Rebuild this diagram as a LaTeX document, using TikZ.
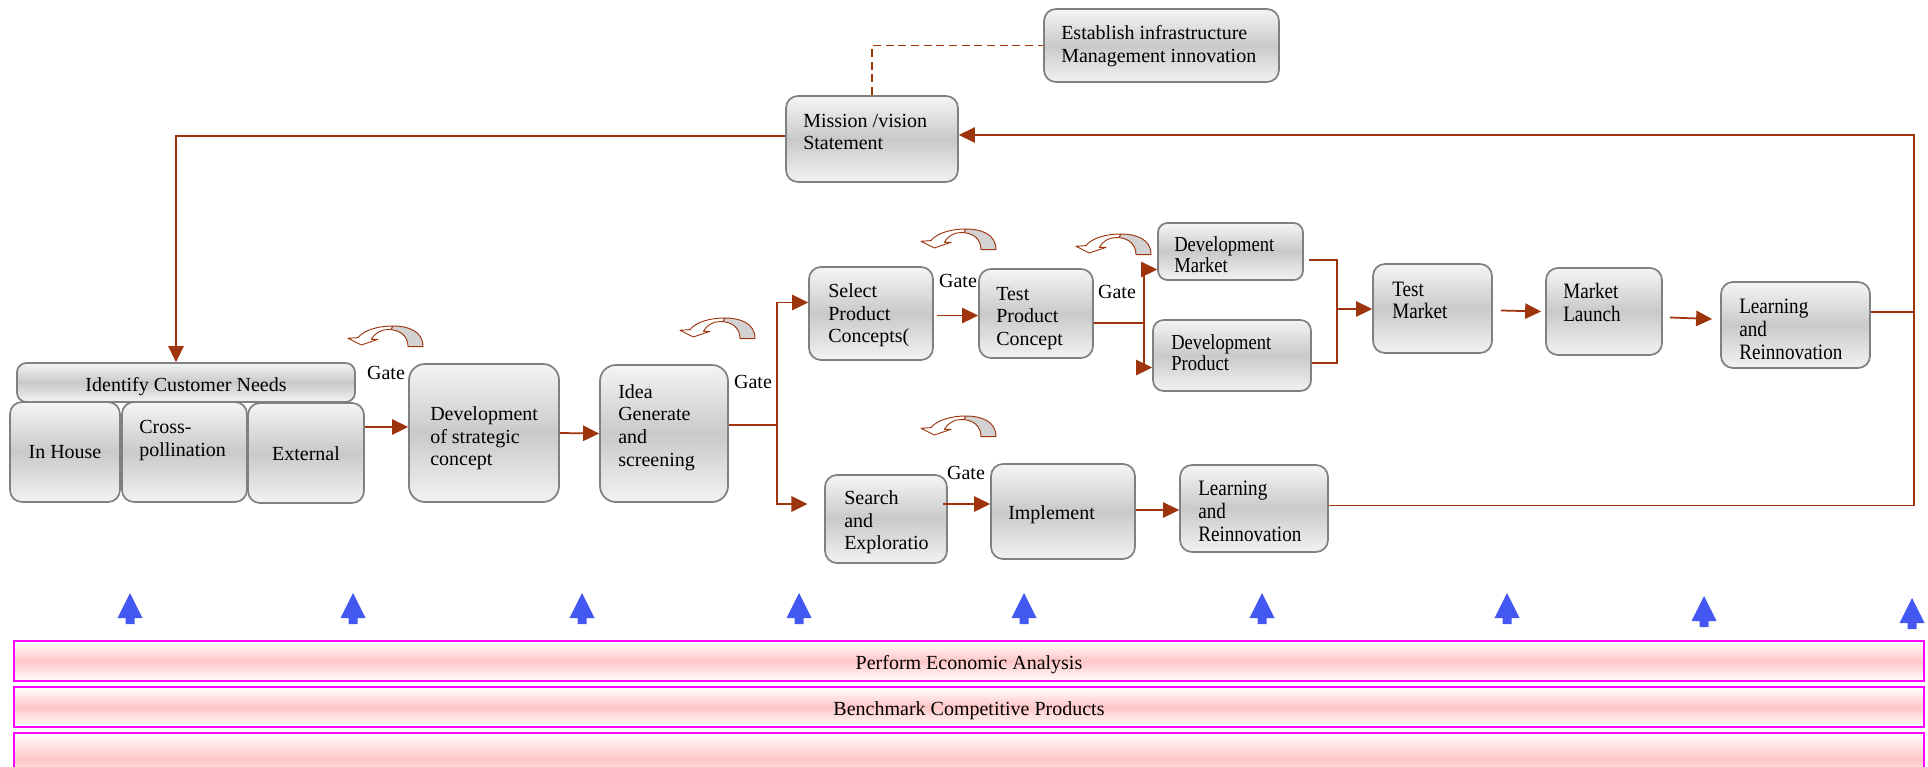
\documentclass[tikz,border=0pt]{standalone}
\usepackage{fontspec}
\setmainfont{Liberation Serif}
\newfontfamily\condfont[FakeStretch=0.87]{Liberation Serif}
\usetikzlibrary{arrows.meta,calc,fit}
\definecolor{brn}{RGB}{158,52,12}
\definecolor{bordergray}{RGB}{128,128,128}
\definecolor{blu}{RGB}{66,88,240}
\definecolor{pinkmid}{RGB}{255,198,198}
\definecolor{mag}{RGB}{255,0,255}
\begin{document}
\begin{tikzpicture}[x=0.75pt,y=-0.75pt,
  gbox/.style={draw=bordergray, line width=1.3pt, rounded corners=9pt,
    top color=gray!8, bottom color=gray!10, middle color=gray!42, inner sep=0pt},
  pbar/.style={draw=mag, line width=1.8pt, top color=white, bottom color=white,
    middle color=pinkmid, inner sep=0pt},
  txt/.style={inner sep=0pt, align=left, yshift=-1.8pt, font=\fontsize{15pt}{17pt}\selectfont},
  ctxt/.style={inner sep=0pt, align=left, yshift=-1pt, font=\condfont\fontsize{16.5pt}{17pt}\selectfont},
  cstxt/.style={inner sep=0pt, align=left, yshift=-1pt, font=\condfont\fontsize{16pt}{16pt}\selectfont},
  conn/.style={draw=brn, line width=1.3pt},
  arr/.style={conn, -{Triangle[length=12pt,width=11.5pt]}},
  curl/.pic={
    \fill[white] (75,20.6) .. controls (75,5) and (60,0) .. (45,0)
      .. controls (30,0) and (16,4) .. (10,11.6) -- (0,12.3) -- (13.3,19) -- (30,13.3) -- (23.3,13.3)
      .. controls (27,7) and (33,3.5) .. (40,3.5) .. controls (52,3.5) and (60,10) .. (60,20.6) -- cycle;
    \begin{scope}
      \clip (43,-3) rectangle (80,24);
      \fill[gray!35] (75,20.6) .. controls (75,5) and (60,0) .. (45,0)
        .. controls (30,0) and (16,4) .. (10,11.6) -- (0,12.3) -- (13.3,19) -- (30,13.3) -- (23.3,13.3)
        .. controls (27,7) and (33,3.5) .. (40,3.5) .. controls (52,3.5) and (60,10) .. (60,20.6) -- cycle;
    \end{scope}
    \draw[brn, line width=0.7pt, line join=round] (75,20.6) .. controls (75,5) and (60,0) .. (45,0)
      .. controls (30,0) and (16,4) .. (10,11.6) -- (0,12.3) -- (13.3,19) -- (30,13.3) -- (23.3,13.3)
      .. controls (27,7) and (33,3.5) .. (40,3.5) .. controls (52,3.5) and (60,10) .. (60,20.6) -- cycle;
    \draw[brn, line width=0.7pt] (45,0) -- (43,3.6);
  },
  uparr/.pic={
    \fill[blu] (0,0) -- (12.5,25) -- (4.5,25) -- (4.5,31) -- (-4.5,31) -- (-4.5,25) -- (-12.5,25) -- cycle;
  }
]
\useasboundingbox (0,0) rectangle (1928,767);
\clip (0,0) rectangle (1928,767);

% boxes
\node[gbox, fit={(786,96) (958,182)}] (mission) {};
\node[gbox, fit={(1044,9) (1279,82)}] (establish) {};
\node[gbox, rounded corners=7pt, fit={(17,363) (355,402)}] (identify) {};
\node[gbox, fit={(10,402) (120,502)}] (inhouse) {};
\node[gbox, fit={(122,402) (247,502)}] (cross) {};
\node[gbox, fit={(248,403) (364,503)}] (external) {};
\node[gbox, rounded corners=12pt, fit={(409,364) (559,502)}] (dev) {};
\node[gbox, rounded corners=12pt, fit={(600,365) (728,502)}] (idea) {};
\node[gbox, fit={(809,267) (933,360)}] (select) {};
\node[gbox, fit={(979,269) (1093,358)}] (testp) {};
\node[gbox, rounded corners=7pt, fit={(1158,223) (1303,280)}] (devm) {};
\node[gbox, rounded corners=8pt, fit={(1153,320) (1311,391)}] (devp) {};
\node[gbox, fit={(1373,264) (1492,353)}] (testm) {};
\node[gbox, fit={(1546,268) (1662,355)}] (launch) {};
\node[gbox, fit={(1721,282) (1870,368)}] (learnt) {};
\node[gbox, fit={(825,475) (947,563)}] (search) {};
\node[gbox, fit={(991,464) (1135,559)}] (implement) {};
\node[gbox, fit={(1180,465) (1328,552)}] (learnb) {};

% texts
\node[txt] (identify-t) at ($(identify.center)+(0,2)$) {Identify Customer Needs};
\node[txt] (inhouse-t) at ($(inhouse.center)+(0,-2)$) {In House};
\node[txt] (external-t) at ($(external.center)+(0,-2)$) {External};
\node[txt, anchor=west] (mission-t) at (803,129.5) {Mission /vision\\Statement};
\node[txt, anchor=west] (establish-t) at (1061,43.5) {Establish infrastructure\\Management innovation};
\node[txt, anchor=west] (cross-t) at (139,438) {Cross-\\pollination};
\node[txt, anchor=west] (dev-t) at (430,436) {Development\\of strategic\\concept};
\node[txt, anchor=west] (idea-t) at (618,425) {Idea\\Generate\\and\\screening};
\node[txt, anchor=west] (select-t) at (828,313) {Select\\Product\\Concepts(};
\node[txt, anchor=west] (testp-t) at (996,316) {Test\\Product\\Concept};
\node[cstxt, anchor=west] (devm-t) at (1174,253.5) {Development\\Market};
\node[cstxt, anchor=west] (devp-t) at (1171,351.5) {Development\\Product};
\node[ctxt, anchor=west] (testm-t) at (1392,299) {Test\\Market};
\node[ctxt, anchor=west] (launch-t) at (1563,301) {Market\\Launch};
\node[ctxt, anchor=west] (learnt-t) at (1739,328) {Learning\\and\\Reinnovation};
\node[txt, anchor=west] (search-t) at (844,520) {Search\\and\\Exploratio};
\node[txt, anchor=west] (implement-t) at (1008,512) {Implement};
\node[ctxt, anchor=west] (learnb-t) at (1198,510) {Learning\\and\\Reinnovation};

% gate labels
\node[txt] (g1) at (386,371) {Gate};
\node[txt] (g2) at (753,380) {Gate};
\node[txt] (g3) at (958,279) {Gate};
\node[txt] (g4) at (1117,290) {Gate};
\node[txt] (g5) at (966,471) {Gate};

% curved gate glyphs
\pic at (348,326) {curl};
\pic at (680,318) {curl};
\pic at (921,229) {curl};
\pic at (1076,234) {curl};
\pic at (921,416) {curl};

% connectors
\draw[conn, dashed, dash pattern=on 6pt off 3.5pt, line width=1.3pt] (mission.north) |- (establish.west);
\draw[arr] ($(mission.west)+(0,-3)$) -| ($(identify.north)+(-10,0)$);
\coordinate (loopc) at (1914,135);
\draw[arr] ($(learnb.east)+(0,-3)$) -| (loopc) -- (mission.east |- loopc);
\coordinate (lt) at ($(learnt.east)+(0,-13)$);
\draw[conn] (lt) -- (lt -| loopc);
\draw[arr] ($(external.east)+(0,-26)$) -- ($(dev.west)+(0,-6)$);
\draw[arr] (dev.east) -- (idea.west);
\coordinate (f1) at (777,425);
\draw[conn] ($(idea.east)+(0,-8.5)$) -- (f1);
\draw[arr] (f1) |- ($(select.west)+(0,-11)$);
\draw[arr, shorten >=12.5pt] (f1) |- ($(search.west)+(0,-15)$);
\draw[arr] ($(select.east)+(3,2)$) -- ($(testp.west)+(0,2)$);
\coordinate (f2) at (1144,323);
\draw[conn] ($(testp.east)+(0,9.5)$) -- (f2);
\draw[arr] (f2) |- ($(devm.west)+(0,18)$);
\draw[arr] (f2) |- ($(devp.west)+(0,12)$);
\coordinate (b1) at (1337,260);
\coordinate (b2) at (1337,363);
\coordinate (b3) at (1337,309);
\draw[conn] ($(devm.east)+(5,8.5)$) -- (b1) -- (b2) -- ($(devp.east)+(0,7.5)$);
\draw[arr] (b3) -- (testm.west |- b3);
\draw[arr] ($(testm.east)+(8,2)$) -- ($(launch.west)+(-4,0)$);
\draw[arr] ($(launch.east)+(7,6)$) -- ($(learnt.west)+(-8,-6)$);
\draw[arr] ($(search.east)+(-5,-15)$) -- ($(implement.west)+(0,-7.5)$);
\draw[arr] ($(implement.east)+(0,-1.5)$) -- ($(learnb.west)+(0,1.5)$);

% blue up arrows
\foreach \px/\py in {130/593,353/593,582/593,799/593,1024/593,1262/593,1507/593,1704/596,1912/598}
  \pic at (\px,\py) {uparr};

% pink bars
\node[pbar, fit={(14,641) (1924,681)}] (bar1) {};
\node[pbar, fit={(14,687) (1924,727)}] (bar2) {};
\node[pbar, fit={(14,733) (1924,785)}] (bar3) {};
\node[txt, yshift=-1pt] (bar1-t) at (bar1.center) {Perform Economic Analysis};
\node[txt, yshift=-1pt] (bar2-t) at (bar2.center) {Benchmark Competitive Products};
\end{tikzpicture}
\end{document}
